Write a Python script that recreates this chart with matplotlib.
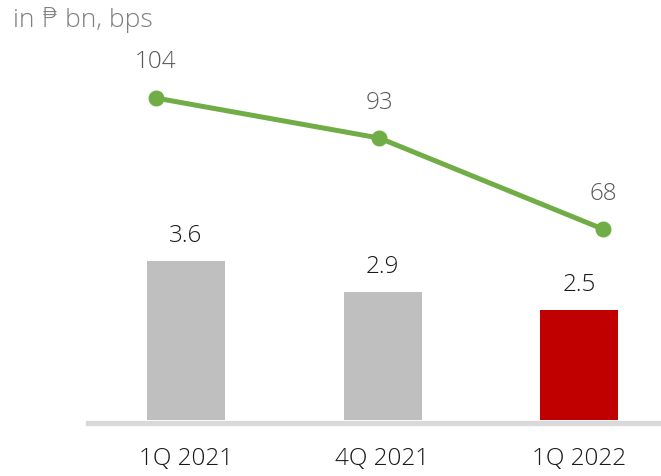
import matplotlib
matplotlib.use("Agg")
import matplotlib.pyplot as plt

# Data
periods = ["1Q 2021", "4Q 2021", "1Q 2022"]
amounts_bn = [3.6, 2.9, 2.5]          # bars, in PHP bn
ratio_bps = [104, 93, 68]             # line, in bps
bar_colors = ["#BFBFBF", "#BFBFBF", "#C00000"]
amount_labels = ["3.6", "2.9", "2.5"]
ratio_labels = ["104", "93", "68"]

W, H = 661, 477
DPI = 100
fig = plt.figure(figsize=(W / DPI, H / DPI), dpi=DPI)
fig.patch.set_facecolor("white")

font = ["Open Sans", "DejaVu Sans"]
plt.rcParams["font.family"] = font
weight = "light"

# axes box in pixels
left_px, right_px, top_px, base_px = 88, 661, 0, 421
rect = [left_px / W, (H - base_px) / H, (right_px - left_px) / W, (base_px - top_px) / H]

# Bar axes
ax = fig.add_axes(rect)
x = list(range(len(periods)))
ax.bar(x, amounts_bn, width=0.397, color=bar_colors, zorder=3)
ax.set_xlim(-0.4987, 2.417)
ax.set_ylim(0, 421 / 44.2)
for s in ["top", "right", "left"]:
    ax.spines[s].set_visible(False)
ax.spines["bottom"].set_color("#D9D9D9")
ax.spines["bottom"].set_linewidth(3.8)
ax.spines["bottom"].set_position(("outward", 1.9))
ax.spines["bottom"].set_zorder(1)
ax.set_yticks([])
ax.set_xticks(x)
ax.set_xticklabels(periods, fontsize=17.5, color="#1A1A1A", fontweight=weight)
ax.tick_params(axis="x", length=0, pad=17)
ax.patch.set_alpha(0)
for xi, v, lab in zip(x, amounts_bn, amount_labels):
    ax.annotate(lab, (xi, v), xytext=(0, 14), textcoords="offset points",
                ha="center", va="baseline", fontsize=17.5, color="#1A1A1A",
                fontweight=weight)

# Line axes (own x and y scale)
ax2 = fig.add_axes(rect)
ax2.patch.set_alpha(0)
ax2.plot(x, ratio_bps, color="#70AD47", linewidth=3.6, marker="o",
         markersize=10.5, zorder=4, solid_capstyle="round")
ax2.set_xlim(-0.304, 2.26)
ax2.set_ylim((477.6 - 421) / 3.64, 477.6 / 3.64)
ax2.axis("off")
for xi, v, lab in zip(x, ratio_bps, ratio_labels):
    ax2.annotate(lab, (xi, v), xytext=(0, 22), textcoords="offset points",
                 ha="center", va="baseline", fontsize=17.5, color="#595959",
                 fontweight=weight)

fig.text(13 / W, 1 - 20 / H, "in \u20b1 bn, bps", ha="left", va="center",
         fontsize=19, color="#7F7F7F", family=font, fontweight=weight)

fig.savefig("out.png", dpi=DPI, facecolor="white")
